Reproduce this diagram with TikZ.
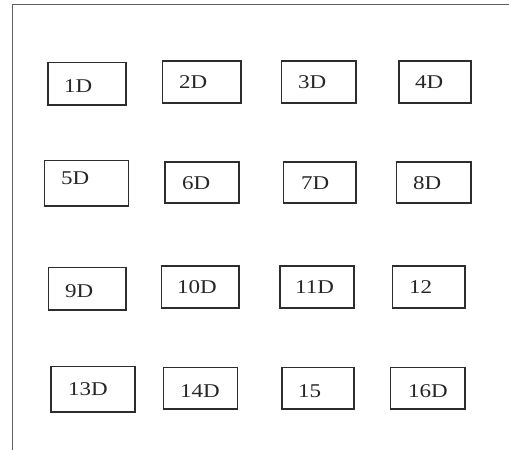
\documentclass[tikz,border=0pt]{standalone}
\usepackage{fontspec}
\setmainfont{Liberation Serif}
\usepackage{graphicx}
\definecolor{linec}{RGB}{45,45,45}
\definecolor{framec}{RGB}{95,95,95}
\tikzset{
  cellbox/.style={draw=linec, line width=1.6pt},
  lbl/.style={anchor=base west, inner sep=0pt, font=\fontsize{19.5}{20}\selectfont, text=black!85},
  framel/.style={draw=framec, line width=1.8pt}
}
\newcommand{\wlbl}[1]{\scalebox{1.18}[1]{#1}}
\begin{document}
\begin{tikzpicture}[x=1pt,y=-1pt]
\useasboundingbox (0,0) rectangle (509,450);
\coordinate (ftl) at (12.5,4.5);
\coordinate (ftr) at (509,4.5);
\coordinate (fbl) at (12.5,450);
\draw[framel] (ftr) -- (ftl) -- (fbl);
% row 1
\draw[cellbox] (48,62.5) rectangle (126,105);
\draw[cellbox] (162.5,61) rectangle (241,103);
\draw[cellbox] (281.5,61) rectangle (356,103);
\draw[cellbox] (399,61) rectangle (471,103);
% row 2
\draw[cellbox] (44.5,160.5) rectangle (128.5,206);
\draw[cellbox] (165,162) rectangle (239,203);
\draw[cellbox] (283.5,162) rectangle (356,203);
\draw[cellbox] (396.5,162) rectangle (471,203);
% row 3
\draw[cellbox] (48.5,267.5) rectangle (126,310);
\draw[cellbox] (161.5,266) rectangle (239,308);
\draw[cellbox] (280,266) rectangle (354,308);
\draw[cellbox] (392.5,266) rectangle (465,308);
% row 4
\draw[cellbox] (51,366.5) rectangle (135,412);
\draw[cellbox] (163.5,367.5) rectangle (237.5,409);
\draw[cellbox] (282,367.5) rectangle (354,409);
\draw[cellbox] (390.5,367.5) rectangle (465,409);
% labels
\node[lbl] (t1) at (64,92) {\wlbl{1D}};
\node[lbl] (t2) at (179,88) {\wlbl{2D}};
\node[lbl] (t3) at (298,88) {\wlbl{3D}};
\node[lbl] (t4) at (415,88) {\wlbl{4D}};
\node[lbl] (t5) at (61,184) {\wlbl{5D}};
\node[lbl] (t6) at (182,189) {\wlbl{6D}};
\node[lbl] (t7) at (301,189) {\wlbl{7D}};
\node[lbl] (t8) at (413,189) {\wlbl{8D}};
\node[lbl] (t9) at (65,297) {\wlbl{9D}};
\node[lbl] (t10) at (177,293) {\wlbl{10D}};
\node[lbl] (t11) at (295,293) {\wlbl{11D}};
\node[lbl] (t12) at (409,293) {\wlbl{12}};
\node[lbl] (t13) at (68,395) {\wlbl{13D}};
\node[lbl] (t14) at (180,397) {\wlbl{14D}};
\node[lbl] (t15) at (298,397) {\wlbl{15}};
\node[lbl] (t16) at (408,397) {\wlbl{16D}};
\end{tikzpicture}
\end{document}
